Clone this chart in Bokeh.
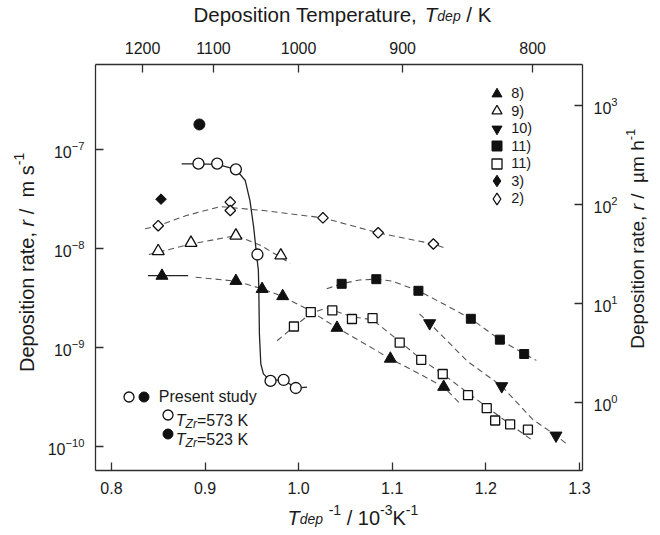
import re
from bokeh.plotting import figure
from bokeh.layouts import column, row
from bokeh.models import (Range1d, LogScale, LogAxis, LinearAxis, FixedTicker,
                          PrintfTickFormatter, CustomJSTickFormatter, Label,
                          Legend, LegendItem)
from bokeh.embed import file_html
from bokeh.resources import INLINE

# ---------------- data ----------------
bottom_ticks = [0.8, 0.9, 1.0, 1.1, 1.2, 1.3]
top_ticks_K = [1200, 1100, 1000, 900, 800]
left_ticks = [1e-10, 1e-9, 1e-8, 1e-7]
right_ticks = [1, 10, 100, 1000]
M_S_TO_UM_H = 3.6e9

# present study, T_Zr = 573 K (open circles) and 523 K (filled circle)
ps573_x = [0.893, 0.913, 0.933, 0.956, 0.970, 0.984, 0.997]
ps573_y = [7.2e-8, 7.2e-8, 6.3e-8, 8.7e-9, 4.6e-10, 4.7e-10, 3.9e-10]
ps523_x = [0.894]
ps523_y = [1.79e-7]
ps_fit_x = [0.875, 0.893, 0.913, 0.933, 0.943, 0.948, 0.952, 0.955, 0.957,
            0.9575, 0.9581, 0.9596, 0.9624, 0.9677, 0.970, 0.984, 0.997, 1.009]
ps_fit_y = [7.16e-8, 7.16e-8, 7.08e-8, 6.31e-8, 4.86e-8, 3.05e-8, 1.64e-8, 8.83e-9, 6.0e-9,
            3.77e-9, 1.38e-9, 6.84e-10, 5.42e-10, 4.82e-10, 4.65e-10, 4.72e-10, 3.89e-10, 3.98e-10]

# ref 8) filled up-triangles
r8_x = [0.854, 0.933, 0.961, 0.983, 1.041, 1.098, 1.155]
r8_y = [5.3e-9, 4.7e-9, 3.9e-9, 3.3e-9, 1.58e-9, 7.7e-10, 4.0e-10]
r8_solid_x = [0.839, 0.882]
r8_solid_y = [5.33e-9, 5.33e-9]
r8_fit_x = [0.890, 0.933, 0.961, 0.983, 1.009, 1.041, 1.070, 1.098, 1.130, 1.155, 1.172]
r8_fit_y = [5.13e-9, 4.68e-9, 3.92e-9, 3.27e-9, 2.45e-9, 1.58e-9, 1.10e-9, 7.69e-10,
            5.37e-10, 3.98e-10, 2.75e-10]

# ref 9) open up-triangles
r9_x = [0.850, 0.885, 0.933, 0.981]
r9_y = [9.4e-9, 1.14e-8, 1.35e-8, 8.5e-9]
r9_fit_x = [0.840, 0.885, 0.933, 0.960, 0.991]
r9_fit_y = [8.7e-9, 1.11e-8, 1.35e-8, 1.07e-8, 7.1e-9]

# ref 10) filled down-triangles
r10_x = [1.140, 1.217, 1.275]
r10_y = [1.76e-9, 4.07e-10, 1.29e-10]
r10_fit_x = [1.129, 1.140, 1.180, 1.217, 1.250, 1.275, 1.286]
r10_fit_y = [2.19e-9, 1.76e-9, 7.3e-10, 4.07e-10, 1.88e-10, 1.29e-10, 1.07e-10]

# ref 11) filled squares
r11f_x = [1.046, 1.083, 1.128, 1.184, 1.215, 1.241]
r11f_y = [4.4e-9, 4.9e-9, 3.74e-9, 1.95e-9, 1.2e-9, 8.6e-10]
r11f_fit_x = [1.030, 1.046, 1.065, 1.083, 1.100, 1.128, 1.155, 1.184, 1.215, 1.241, 1.254]
r11f_fit_y = [3.92e-9, 4.40e-9, 4.81e-9, 4.90e-9, 4.68e-9, 3.74e-9, 2.75e-9, 1.95e-9,
              1.20e-9, 8.63e-10, 7.41e-10]

# ref 11) open squares
r11o_x = [0.995, 1.013, 1.036, 1.057, 1.079, 1.108, 1.131, 1.154, 1.181, 1.201, 1.210, 1.226, 1.245]
r11o_y = [1.63e-9, 2.28e-9, 2.37e-9, 1.94e-9, 1.98e-9, 1.12e-9, 7.5e-10, 5.4e-10,
          3.3e-10, 2.44e-10, 1.83e-10, 1.67e-10, 1.48e-10]
r11o_fit_x = [0.977, 0.995, 1.013, 1.030, 1.057, 1.079, 1.108, 1.131, 1.154, 1.181, 1.201, 1.225, 1.250]
r11o_fit_y = [1.17e-9, 1.62e-9, 2.21e-9, 2.51e-9, 2.04e-9, 1.91e-9, 1.15e-9, 7.6e-10,
              5.4e-10, 3.47e-10, 2.51e-10, 1.70e-10, 1.15e-10]

# ref 3) filled diamond
r3_x = [0.853]
r3_y = [3.15e-8]

# ref 2) open diamonds
r2_x = [0.850, 0.927, 0.927, 1.026, 1.085, 1.144]
r2_y = [1.7e-8, 2.94e-8, 2.42e-8, 2.04e-8, 1.44e-8, 1.11e-8]
r2_fit_x = [0.836, 0.850, 0.880, 0.916, 0.962, 1.026, 1.085, 1.144, 1.158]
r2_fit_y = [1.58e-8, 1.70e-8, 2.15e-8, 2.65e-8, 2.42e-8, 2.04e-8, 1.44e-8, 1.11e-8, 1.0e-8]

ref_labels = ["8)", "9)", "10)", "11)", "11)", "3)", "2)"]
ps_labels = ["Present study", "=573 K", "=523 K"]

# ---------------- styling / geometry ----------------
FONT = "Liberation Sans"
INK = "#1a1a1a"
AXC = "#2e2e2e"
DASHC = "#555555"
PAGE_W, PAGE_H = 660, 535
TOP_H, BOT_H = 30, 35          # title strips above / below
LEFT_W, RIGHT_W = 40, 40       # title strips left / right
MID_H = PAGE_H - TOP_H - BOT_H
MAIN_W = PAGE_W - LEFT_W - RIGHT_W
# frame edges in page pixels
PL, PR, PT, PB = 95, 583, 64, 470
X0, X1 = 0.783, 1.3033
LY0, LY1 = -10.2424, -6.1414
PXX = (PR - PL) / (X1 - X0)
PXY = (PB - PT) / (LY1 - LY0)

p = figure(width=MAIN_W, height=MID_H, x_range=Range1d(X0, X1),
           y_range=Range1d(10 ** LY0, 10 ** LY1), y_axis_type="log",
           output_backend="svg", toolbar_location=None,
           min_border_left=PL - LEFT_W, min_border_right=LEFT_W + MAIN_W - PR,
           min_border_top=PT - TOP_H, min_border_bottom=TOP_H + MID_H - PB)
p.grid.visible = False
p.outline_line_color = None
p.background_fill_color = "white"
p.border_fill_color = "white"

p.extra_y_ranges = {"umh": Range1d(10 ** LY0 * M_S_TO_UM_H, 10 ** LY1 * M_S_TO_UM_H)}
p.extra_y_scales = {"umh": LogScale()}

p.xaxis[0].ticker = FixedTicker(ticks=bottom_ticks)
p.xaxis[0].formatter = PrintfTickFormatter(format="%.1f")
p.yaxis[0].ticker = FixedTicker(ticks=left_ticks)

top_ax = LinearAxis(ticker=FixedTicker(ticks=[1000.0 / t for t in top_ticks_K]),
                    formatter=CustomJSTickFormatter(code="return (1000/tick).toFixed(0);"))
p.add_layout(top_ax, "above")
right_ax = LogAxis(y_range_name="umh", ticker=FixedTicker(ticks=right_ticks))
p.add_layout(right_ax, "right")

for ax in p.axis:
    ax.axis_label = None
    ax.major_tick_in = 8
    ax.major_tick_out = 0
    ax.minor_tick_line_color = None
    ax.axis_line_color = AXC
    ax.axis_line_width = 1.3
    ax.major_tick_line_color = AXC
    ax.major_tick_line_width = 1.3
    ax.major_label_text_font = FONT
    ax.major_label_text_font_size = "16px"
    ax.major_label_text_color = INK
    ax.major_label_standoff = 11

# ---------------- curves ----------------
dash = dict(line_color=DASHC, line_width=1.1, line_dash="6 4")
p.line(r2_fit_x, r2_fit_y, **dash)
p.line(r9_fit_x, r9_fit_y, **dash)
p.line(r8_fit_x, r8_fit_y, **dash)
p.line(r10_fit_x, r10_fit_y, **dash)
p.line(r11f_fit_x, r11f_fit_y, **dash)
p.line(r11o_fit_x, r11o_fit_y, **dash)
p.line(r8_solid_x, r8_solid_y, line_color="#222222", line_width=1.3)
p.line(ps_fit_x, ps_fit_y, line_color="#222222", line_width=1.3)

# ---------------- markers ----------------
blk = dict(fill_color="#111111", line_color="#111111", line_width=1.0)
opn = dict(fill_color="white", line_color="#111111", line_width=1.3)
r_8 = p.scatter(r8_x, r8_y, marker="triangle", size=12, **blk)
r_9 = p.scatter(r9_x, r9_y, marker="triangle", size=12, **opn)
r_10 = p.scatter(r10_x, r10_y, marker="inverted_triangle", size=12, **blk)
r_11f = p.scatter(r11f_x, r11f_y, marker="square", size=9, **blk)
r_11o = p.scatter(r11o_x, r11o_y, marker="square", size=9, **opn)
r_3 = p.scatter(r3_x, r3_y, marker="square", angle=0.785398, size=7.5, **blk)
r_2 = p.scatter(r2_x, r2_y, marker="square", angle=0.785398, size=7.5, **opn)
r_ps573 = p.scatter(ps573_x, ps573_y, marker="circle", size=11, **opn)
r_ps523 = p.scatter(ps523_x, ps523_y, marker="circle", size=11, **blk)
# hidden diamond renderers of the same data, used only to draw the legend keys
r_3_key = p.scatter(r3_x, r3_y, marker="diamond", size=10, visible=False, **blk)
r_2_key = p.scatter(r2_x, r2_y, marker="diamond", size=10, visible=False, **opn)


# ---------------- legends ----------------
def add_legend(renderer, label, cx, cy, g, text_x, size="14.5px"):
    leg = Legend(items=[LegendItem(label=label, renderers=[renderer])],
                 location=(cx - g / 2 - PL, PB - cy - g / 2),
                 glyph_width=g, glyph_height=g, label_height=g, label_width=10,
                 padding=0, margin=0, spacing=0,
                 label_standoff=int(round(text_x - (cx + g / 2))),
                 border_line_color=None, background_fill_alpha=0,
                 label_text_font=FONT, label_text_font_size=size,
                 label_text_color=INK)
    p.add_layout(leg)


ref_rends = [r_8, r_9, r_10, r_11f, r_11o, r_3_key, r_2_key]
ref_rows = [93, 110.5, 128, 145.5, 163, 180.5, 198]
for rend, lab, cy in zip(ref_rends, ref_labels, ref_rows):
    g = 29 if rend in (r_3_key, r_2_key) else 25
    add_legend(rend, lab, 496.7, cy, g, 511)

add_legend(r_ps573, " ", 128.3, 396.7, 25, 150, "16px")
add_legend(r_ps523, ps_labels[0], 143.3, 396.7, 25, 159, "16px")
add_legend(r_ps573, " ", 167.3, 414.3, 25, 190, "16px")
add_legend(r_ps523, " ", 167.3, 433.3, 25, 190, "16px")

# ---------------- composite text ----------------
AW = {' ': 278, ',': 278, '-': 333, '.': 278, '/': 278, '=': 584, ')': 333, '(': 333,
      'D': 722, 'T': 611, 'K': 667, 'Z': 611, 'P': 667, 'µ': 576,
      'a': 556, 'b': 556, 'c': 500, 'd': 556, 'e': 556, 'f': 278, 'g': 556, 'h': 556,
      'i': 222, 'j': 222, 'k': 500, 'l': 222, 'm': 833, 'n': 556, 'o': 556, 'p': 556,
      'q': 556, 'r': 333, 's': 500, 't': 278, 'u': 556, 'v': 500, 'w': 722, 'x': 500,
      'y': 500, 'z': 500}


def tw(s, size):
    return sum(AW.get(c, 556) for c in s) * size / 1000.0


def run(fig, pieces, ax_, ay_, angle=0.0):
    """pieces: (text, size_px, italic, rise_px); (ax_, ay_) = data anchor of the run"""
    adv = 0.0
    for text, size, ital, rise in pieces:
        for tok in re.split(r"( )", text):
            if tok == "":
                continue
            if tok == " ":
                adv += 278 * size / 1000.0
                continue
            if angle == 0.0:
                xo, yo = adv, rise
            else:
                xo, yo = -rise, adv
            fig.add_layout(Label(x=ax_, y=ay_, x_offset=xo, y_offset=yo,
                                 text=tok, angle=angle, text_font=FONT,
                                 text_font_size=f"{size}px",
                                 text_font_style="italic" if ital else "normal",
                                 text_color=INK, text_baseline="alphabetic",
                                 text_align="left"))
            adv += tw(tok, size)


def strip(w, h):
    f = figure(width=w, height=h, x_range=Range1d(0, w), y_range=Range1d(0, h),
               x_axis_type=None, y_axis_type=None, output_backend="svg",
               toolbar_location=None, min_border=0)
    f.outline_line_color = None
    f.background_fill_color = "white"
    f.border_fill_color = "white"
    return f


top_fig = strip(PAGE_W, TOP_H)
bot_fig = strip(PAGE_W, BOT_H)
left_fig = strip(LEFT_W, MID_H)
right_fig = strip(RIGHT_W, MID_H)
RIGHT_X0 = LEFT_W + MAIN_W     # page x where the right strip starts

# anchors below are page pixels, corrected for where the strips render their text
# top title
run(top_fig, [("Deposition Temperature, ", 20.5, False, 0), ("T", 20.5, True, 0),
              ("dep", 14, True, -1), (" / K", 20.5, False, 0)], 193, TOP_H - 14)
# bottom title
run(bot_fig, [("T", 20, True, 0), ("dep", 14, True, -1), (" ", 20, False, 0), ("-1", 14, False, 8),
              (" / 10", 20, False, 0), ("-3", 14, False, 8), ("K", 20, False, 0),
              ("-1", 14, False, 8)], 287, PAGE_H - 517)
# left title (rotated)
run(left_fig, [("Deposition rate, ", 20, False, 0), ("r", 20, True, 0), (" /  m s", 20, False, 0),
               ("-1", 14, False, 8)], 26, TOP_H + MID_H - 386, angle=1.5707963)
# right title (rotated)
run(right_fig, [("Deposition rate, ", 19, False, 0), ("r", 19, True, 0), (" /  µm h", 19, False, 0),
                ("-1", 13, False, 7)], 637 - RIGHT_X0, TOP_H + MID_H - 359, angle=1.5707963)
# T_Zr legend texts inside the main frame
for lab, cy in zip(ps_labels[1:], [414.3, 433.3]):
    run(p, [("T", 16, True, 0), ("Zr", 12, True, -3), (lab, 16, False, 0)],
        X0 + (175.5 - PL) / PXX, 10 ** (LY1 - (cy + 5.8 - PT) / PXY))

layout = column(top_fig, row(left_fig, p, right_fig), bot_fig, spacing=0)
open("out.html", "w").write(file_html(layout, INLINE))
